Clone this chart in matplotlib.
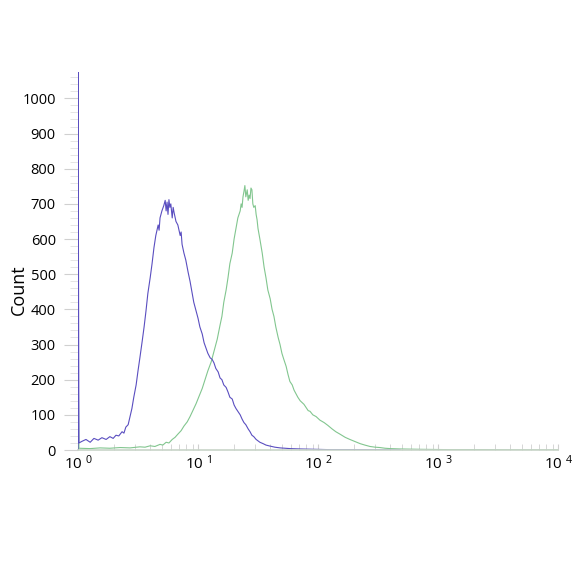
import matplotlib
matplotlib.use('Agg')
import matplotlib.pyplot as plt
from matplotlib.ticker import MultipleLocator, FixedLocator, NullFormatter
import numpy as np

# channel numbers (1024 channels over 4 decades) and counts
blue_ch = [0, 0, 2, 9, 17, 26, 34, 43, 51, 60, 68, 75, 81, 87, 94, 98, 102, 107, 111, 115,
           119, 124, 128, 132, 137, 141, 145, 149, 154, 158, 162, 166, 171, 173, 175, 179,
           183, 186, 188, 190, 192, 194, 196, 198, 201, 203, 205, 209, 213, 218, 220, 222,
           226, 230, 235, 239, 243, 247, 252, 256, 260, 265, 269, 273, 277, 282, 286, 290,
           294, 299, 303, 307, 311, 316, 320, 324, 329, 333, 337, 341, 346, 350, 354, 358,
           363, 367, 371, 375, 380, 384, 388, 395, 401, 410, 420, 431, 452, 474, 506, 538,
           580, 687]
blue_count = [0, 1100, 20, 25, 30, 22, 33, 28, 35, 30, 38, 33, 42, 40, 52, 48, 65, 72, 95, 118,
              150, 185, 225, 262, 310, 350, 395, 445, 490, 530, 575, 610, 640, 625, 660, 680,
              695, 710, 680, 705, 670, 712, 690, 700, 660, 690, 675, 650, 640, 610, 620, 585,
              560, 540, 505, 480, 450, 420, 395, 375, 350, 330, 305, 290, 275, 262, 258, 248,
              232, 222, 205, 200, 185, 178, 165, 150, 145, 128, 118, 110, 100, 88, 78, 72,
              60, 52, 42, 38, 30, 26, 22, 18, 14, 11, 8, 6, 4, 3, 2, 1,
              1, 0]

green_ch = [0, 0, 2, 26, 47, 68, 90, 111, 132, 143, 154, 164, 175, 181, 188, 194, 201, 207,
            213, 220, 226, 233, 239, 245, 252, 258, 265, 271, 277, 284, 290, 297, 303, 307,
            311, 316, 320, 324, 329, 333, 337, 341, 346, 348, 350, 352, 354, 356, 358, 361,
            363, 365, 367, 369, 371, 373, 375, 378, 380, 382, 384, 388, 393, 397, 401, 405,
            410, 414, 418, 422, 427, 431, 435, 439, 444, 448, 452, 457, 461, 465, 469, 474,
            478, 482, 486, 491, 495, 501, 508, 516, 525, 533, 542, 550, 559, 570, 580, 591,
            602, 612, 623, 634, 644, 655, 666, 687, 730, 794, 858, 943, 1024]
green_count = [0, 310, 5, 4, 6, 5, 7, 6, 9, 8, 12, 10, 16, 14, 22, 20, 30, 36,
               45, 55, 68, 80, 95, 112, 132, 152, 175, 200, 225, 250, 280, 315, 355, 380,
               420, 455, 490, 530, 560, 600, 630, 660, 680, 700, 690, 720, 735, 752, 720, 740,
               710, 725, 715, 745, 740, 700, 690, 695, 670, 655, 630, 600, 560, 520, 490, 455,
               430, 400, 380, 350, 320, 300, 275, 258, 238, 215, 195, 185, 170, 160, 150, 140,
               135, 130, 122, 112, 110, 100, 95, 85, 78, 70, 60, 52, 45, 36, 30, 24,
               18, 14, 10, 8, 7, 5, 4, 3, 2, 1, 1, 0, 0]

x_ticks = [1, 10, 100, 1000, 10000]
x_labels = [r'$\mathregular{10^{\ %d}}$' % k for k in range(5)]
y_ticks = list(range(0, 1001, 100))

plt.rcParams['font.family'] = ['Open Sans', 'DejaVu Sans']

fig = plt.figure(figsize=(5.84, 5.84), dpi=100)
ax = fig.add_axes([78 / 584, 1 - 450 / 584, 480 / 584, 378 / 584])

blue_x = 10 ** (np.array(blue_ch) / 256)
green_x = 10 ** (np.array(green_ch) / 256)
ax.plot(green_x, green_count, color='#82c68f', lw=0.8)
ax.plot(blue_x, blue_count, color='#5a4ec0', lw=0.8)

ax.set_xscale('log')
ax.set_xlim(1, 10000)
ax.set_ylim(0, 1075)

ax.set_xticks(x_ticks)
ax.set_xticklabels(x_labels, fontsize=11)
ax.set_yticks(y_ticks)
ax.set_yticklabels([str(v) for v in y_ticks], fontsize=10.5)
ax.yaxis.set_minor_locator(MultipleLocator(20))
minor_x = [m * 10 ** d for d in range(4) for m in range(2, 10)]
ax.xaxis.set_minor_locator(FixedLocator(minor_x))
ax.xaxis.set_minor_formatter(NullFormatter())

ax.tick_params(axis='y', which='major', length=10, color='#d0d0d0', pad=6)
ax.tick_params(axis='y', which='minor', length=6, color='#e0e0e0')
ax.tick_params(axis='x', which='both', direction='in', length=4, color='#d0d0d0', pad=3)

for side in ['top', 'right', 'left']:
    ax.spines[side].set_visible(False)
ax.spines['bottom'].set_color('#c8d4c8')
ax.spines['bottom'].set_linewidth(1.2)

ax.set_ylabel('Count', fontsize=13)
ax.yaxis.set_label_coords(-0.104, 0.423)

fig.savefig('out.png', dpi=100, facecolor='white')
